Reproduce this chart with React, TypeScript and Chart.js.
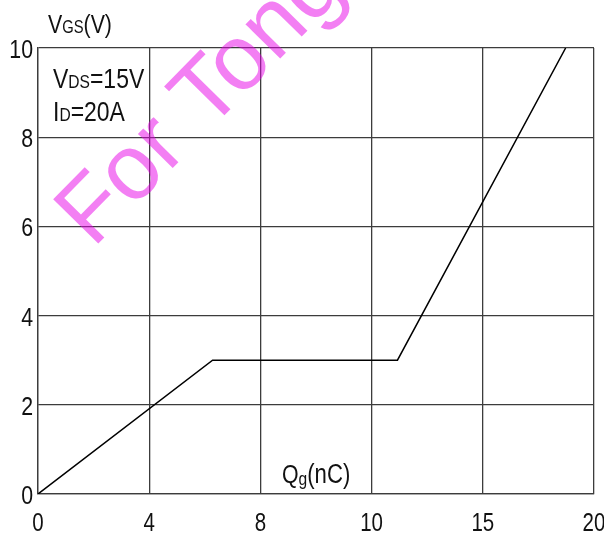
import React, { useEffect, useRef } from "react";
import { Chart, registerables } from "chart.js";

Chart.register(...registerables);

// Gate charge curve: gate-source voltage vs. total gate charge
const qgPoints = [0, 6.28, 12.93, 18.98];
const vgsPoints = [0, 3, 3, 10];
const xTickLabels = ["0", "4", "8", "10", "15", "20"];
const yTickValues = [0, 2, 4, 6, 8, 10];

const FONT = "'Liberation Sans', Arial, sans-serif";
// horizontal squeeze applied to all chart text (condensed sans look)
const SQUEEZE = 0.82;

type Seg = { t: string; size: number; dy?: number };

function drawText(
  ctx: CanvasRenderingContext2D,
  text: string,
  x: number,
  y: number,
  size: number,
  align: CanvasTextAlign,
  baseline: CanvasTextBaseline
) {
  ctx.save();
  ctx.translate(x, y);
  ctx.scale(SQUEEZE, 1);
  ctx.font = `${size}px ${FONT}`;
  ctx.textAlign = align;
  ctx.textBaseline = baseline;
  ctx.fillText(text, 0, 0);
  ctx.restore();
}

function drawRich(ctx: CanvasRenderingContext2D, x: number, y: number, segs: Seg[]) {
  ctx.save();
  ctx.translate(x, y);
  ctx.scale(SQUEEZE, 1);
  ctx.textAlign = "left";
  ctx.textBaseline = "alphabetic";
  let cx = 0;
  for (const s of segs) {
    ctx.font = `${s.size}px ${FONT}`;
    ctx.fillText(s.t, cx, s.dy || 0);
    cx += ctx.measureText(s.t).width;
  }
  ctx.restore();
}

const annotations = {
  id: "annotations",
  afterDraw(chart: Chart) {
    const ctx = chart.ctx;
    const xs: any = chart.scales.x;
    const ys: any = chart.scales.y;
    ctx.save();
    ctx.fillStyle = "#111";

    // axis tick labels
    xs.ticks.forEach((t: any, i: number) => {
      drawText(ctx, xTickLabels[i], xs.getPixelForValue(t.value), 531, 25, "center", "alphabetic");
    });
    ys.ticks.forEach((t: any) => {
      drawText(ctx, String(t.value), 33, ys.getPixelForValue(t.value) + 10, 26, "right", "alphabetic");
    });

    // axis titles and test conditions
    drawRich(ctx, 48, 33, [
      { t: "V", size: 26 },
      { t: "GS", size: 18 },
      { t: "(V)", size: 26 },
    ]);
    drawRich(ctx, 53, 88, [
      { t: "V", size: 28 },
      { t: "DS", size: 19 },
      { t: "=15V", size: 28 },
    ]);
    drawRich(ctx, 53, 121, [
      { t: "I", size: 28 },
      { t: "D", size: 19 },
      { t: "=20A", size: 28 },
    ]);
    drawRich(ctx, 282, 483, [
      { t: "Q", size: 26 },
      { t: "g", size: 19, dy: 2 },
      { t: "(nC)", size: 27 },
    ]);

    // watermark
    ctx.translate(93, 249);
    ctx.rotate((-45.5 * Math.PI) / 180);
    ctx.font = `92px ${FONT}`;
    ctx.textAlign = "left";
    ctx.textBaseline = "alphabetic";
    ctx.fillStyle = "rgba(232, 0, 232, 0.5)";
    ctx.fillText("For Tong", 0, 0);
    ctx.restore();
  },
};

export default function App() {
  const ref = useRef<HTMLCanvasElement>(null);

  useEffect(() => {
    document.body.style.margin = "0";
    const canvas = ref.current;
    if (!canvas) return;
    const gridColor = "#3c3c3c";
    const chart = new Chart(canvas, {
      type: "scatter",
      data: {
        datasets: [
          {
            data: qgPoints.map((q, i) => ({ x: q, y: vgsPoints[i] })),
            showLine: true,
            borderColor: "#000",
            borderWidth: 1.5,
            pointRadius: 0,
            tension: 0,
          },
        ],
      },
      options: {
        responsive: false,
        animation: false,
        layout: { padding: { top: 48, right: 10, left: 0, bottom: 0 } },
        plugins: { legend: { display: false }, tooltip: { enabled: false } },
        scales: {
          x: {
            type: "linear",
            min: 0,
            max: 20,
            grid: { color: gridColor, lineWidth: 1.3, drawTicks: false },
            border: { color: gridColor, width: 1.3 },
            ticks: { stepSize: 4, display: false, autoSkip: false },
            afterFit: (s: any) => {
              s.height = 40;
              s.paddingLeft = 0;
              s.paddingRight = 0;
            },
          },
          y: {
            type: "linear",
            min: 0,
            max: 10,
            afterBuildTicks: (s: any) => {
              s.ticks = yTickValues.map((v) => ({ value: v }));
            },
            grid: { color: gridColor, lineWidth: 1.3, drawTicks: false },
            border: { color: gridColor, width: 1.3 },
            ticks: { display: false },
            afterFit: (s: any) => {
              s.width = 38;
              s.paddingTop = 0;
              s.paddingBottom = 0;
            },
          },
        },
      },
      plugins: [annotations],
    });
    return () => chart.destroy();
  }, []);

  return <canvas ref={ref} width={604} height={534} style={{ display: "block" }} />;
}
